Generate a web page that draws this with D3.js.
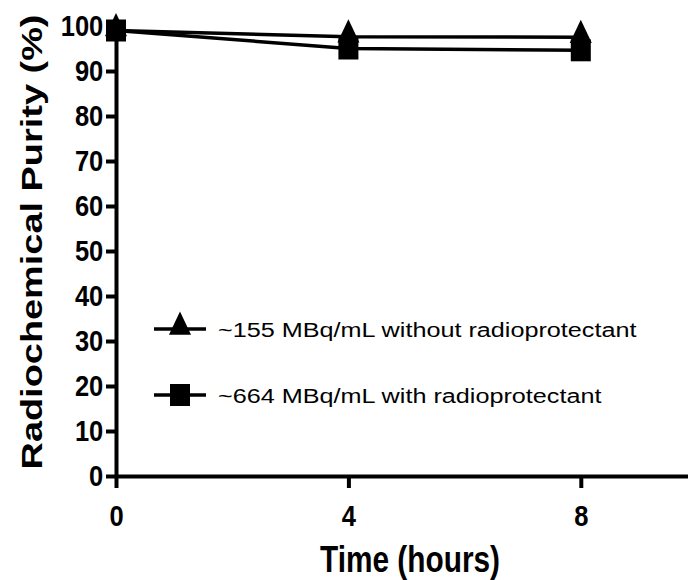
<!DOCTYPE html>
<html>
<head>
<meta charset="utf-8">
<script src="https://cdn.jsdelivr.net/npm/d3@7"></script>
<style>
body { margin: 0; background: #fff; }
svg { display: block; }
</style>
</head>
<body>
<div id="chart"></div>
<script>
const hours = [0, 4, 8];
const without = [99, 97.6, 97.5];
const withProt = [99, 95, 94.6];
const yTicks = [0, 10, 20, 30, 40, 50, 60, 70, 80, 90, 100];
const xTicks = [0, 4, 8];
const seriesNames = ["~155 MBq/mL without radioprotectant", "~664 MBq/mL with radioprotectant"];

const svg = d3.select("#chart").append("svg")
    .attr("width", 688)
    .attr("height", 580);

const x = d3.scaleLinear().domain([0, 10]).range([116, 697]);
const y = d3.scaleLinear().domain([0, 100]).range([476, 26]);

const sans = "'Liberation Sans', Arial, sans-serif";

// y axis
const yAxis = svg.append("g")
    .attr("transform", "translate(116,0)")
    .call(d3.axisLeft(y).tickValues(yTicks).tickSize(10).tickPadding(4).tickSizeOuter(0));
yAxis.select(".domain").attr("stroke-width", 4);
yAxis.selectAll(".tick line").attr("stroke-width", 4);
yAxis.selectAll(".tick text")
    .attr("x", -15)
    .attr("transform", "scale(0.85,1)")
    .style("font-family", sans)
    .style("font-weight", "bold")
    .style("font-size", "30px")
    .attr("fill", "#000");

// x axis
const xAxis = svg.append("g")
    .attr("transform", "translate(0,476)")
    .call(d3.axisBottom(x).tickValues(xTicks).tickSize(12).tickPadding(17).tickSizeOuter(0));
xAxis.select(".domain").attr("stroke-width", 4);
xAxis.selectAll(".tick line").attr("stroke-width", 4);
xAxis.selectAll(".tick text")
    .attr("transform", "scale(0.85,1)")
    .style("font-family", sans)
    .style("font-weight", "bold")
    .style("font-size", "30px")
    .attr("fill", "#000");

// axis titles
svg.append("text")
    .attr("x", 410)
    .attr("y", 572)
    .attr("text-anchor", "middle")
    .attr("textLength", 180)
    .attr("lengthAdjust", "spacingAndGlyphs")
    .style("font-family", sans)
    .style("font-weight", "bold")
    .style("font-size", "37px")
    .text("Time (hours)");

svg.append("text")
    .attr("transform", "translate(42,242) rotate(-90)")
    .attr("text-anchor", "middle")
    .attr("textLength", 455)
    .attr("lengthAdjust", "spacingAndGlyphs")
    .style("font-family", sans)
    .style("font-weight", "bold")
    .style("font-size", "30px")
    .text("Radiochemical Purity (%)");

const line = d3.line()
    .x((d, i) => x(hours[i]))
    .y(d => y(d));

const triangle = d3.symbol().type(d3.symbolTriangle).size(260);

function drawSquare(g, cx, cy) {
    g.append("rect")
        .attr("x", cx - 10)
        .attr("y", cy - 11)
        .attr("width", 20)
        .attr("height", 22)
        .attr("fill", "#000");
}

// series: without radioprotectant (triangles)
svg.append("path")
    .datum(without)
    .attr("fill", "none")
    .attr("stroke", "#000")
    .attr("stroke-width", 3.5)
    .attr("d", line);

// series: with radioprotectant (squares)
svg.append("path")
    .datum(withProt)
    .attr("fill", "none")
    .attr("stroke", "#000")
    .attr("stroke-width", 3.5)
    .attr("d", line);

const marks = svg.append("g");
withProt.forEach((v, i) => drawSquare(marks, x(hours[i]), y(v)));
without.forEach((v, i) => {
    marks.append("path")
        .attr("d", triangle)
        .attr("transform", "translate(" + x(hours[i]) + "," + (y(v) - 2) + ") scale(0.9,1.1)")
        .attr("fill", "#000");
});

// legend
const legend = svg.append("g");
const legendRows = [329, 395];
legendRows.forEach((ly, i) => {
    legend.append("line")
        .attr("x1", 154).attr("x2", 206)
        .attr("y1", ly).attr("y2", ly)
        .attr("stroke", "#000")
        .attr("stroke-width", 3.5);
    if (i === 0) {
        legend.append("path")
            .attr("d", triangle)
            .attr("transform", "translate(180," + (ly - 2) + ") scale(0.9,1.1)")
            .attr("fill", "#000");
    } else {
        drawSquare(legend, 180, ly);
    }
    legend.append("text")
        .attr("transform", "translate(218," + (ly + 8) + ") scale(1.2,1)")
        .style("font-family", sans)
        .style("font-size", "21px")
        .text(seriesNames[i]);
});
</script>
</body>
</html>
